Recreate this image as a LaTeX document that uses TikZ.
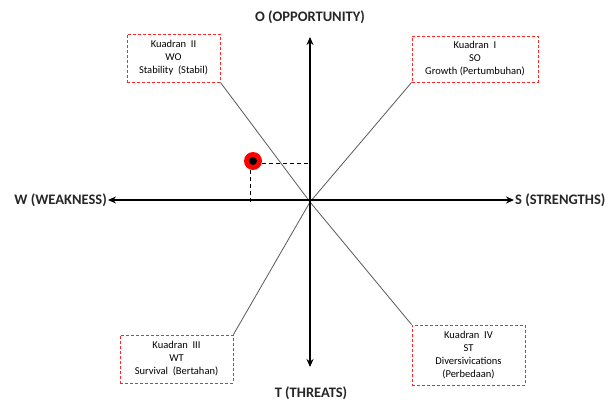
\documentclass[tikz,border=0pt]{standalone}
\usepackage{fontspec}
\setmainfont{Carlito}
\usepackage{tikz}
\usetikzlibrary{arrows.meta, positioning}
\tikzset{%
	kuadran/.style={
		draw=red!85!white,
		dash pattern=on 3pt off 2pt,
		line width=0.8pt,
		align=center,
		inner sep=0pt,
		font=\fontsize{10.5}{13}\selectfont
	},
	axislabel/.style={
		font=\bfseries\fontsize{14.5}{16}\selectfont,
		text=black!85,
		inner sep=1pt
	},
	axis/.style={
		line width=1.4pt,
		{Stealth[length=8pt,width=7pt]}-{Stealth[length=8pt,width=7pt]}
	},
	diag/.style={
		draw=black!65,
		line width=0.8pt
	},
	guide/.style={
		line width=0.9pt,
		dash pattern=on 4pt off 3pt
	},
}
\begin{document}
\begin{tikzpicture}[x=1pt,y=-1pt]
			\useasboundingbox (0,0) rectangle (610,404);
			
			% Centre and axis ends
			\coordinate (o) at (310,202);
			\coordinate (top) at (310,37);
			\coordinate (bottom) at (310,367);
			
			% Axis labels
			\node[axislabel] (olab) at (310,17) {O (OPPORTUNITY)};
			\node[axislabel] (tlab) at (311,393) {T (THREATS)};
			\node[axislabel, anchor=east] (wlab) at (108,200) {W (WEAKNESS)};
			\node[axislabel, anchor=west] (slab) at (514,200) {S (STRENGTHS)};
			
			% Quadrant boxes
			\node[kuadran, minimum width=93, minimum height=48] (kII) at (173.5,58)
				{Kuadran~~II\\WO\\Stability~~(Stabil)};
			\node[kuadran, minimum width=126, minimum height=46] (kI) at (475,59)
				{Kuadran~~I\\SO\\Growth (Pertumbuhan)};
			\node[kuadran, minimum width=113, minimum height=48] (kIII) at (176.5,359)
				{Kuadran~~III\\WT\\Survival~~(Bertahan)};
			\node[kuadran, minimum width=113, minimum height=60] (kIV) at (468.5,355)
				{Kuadran~~IV\\ST\\Diversivications\\(Perbedaan)};
			
			% Diagonals to the boxes
			\draw[diag] (o) -- (kII.south east);
			\draw[diag] (o) -- (kI.south west);
			\draw[diag] (o) -- (kIII.north east);
			\draw[diag] (o) -- (kIV.north west);
			
			% Axes
			\draw[axis] (wlab.east) -- (slab.west);
			\draw[axis] (top) -- (bottom);
			
			% Position point
			\node[circle, fill=red, minimum size=18pt, inner sep=0pt] (pt) at (253,161) {};
			\node[circle, fill=black, minimum size=8pt, inner sep=0pt] (ptin) at (pt) {};
			\draw[guide] ([yshift=-2]pt.east) -- ([yshift=-2]pt.east -| o);
			\draw[guide] ([xshift=-3]pt.south) -- ([xshift=-3]pt.south |- o);
		\end{tikzpicture}
\end{document}
